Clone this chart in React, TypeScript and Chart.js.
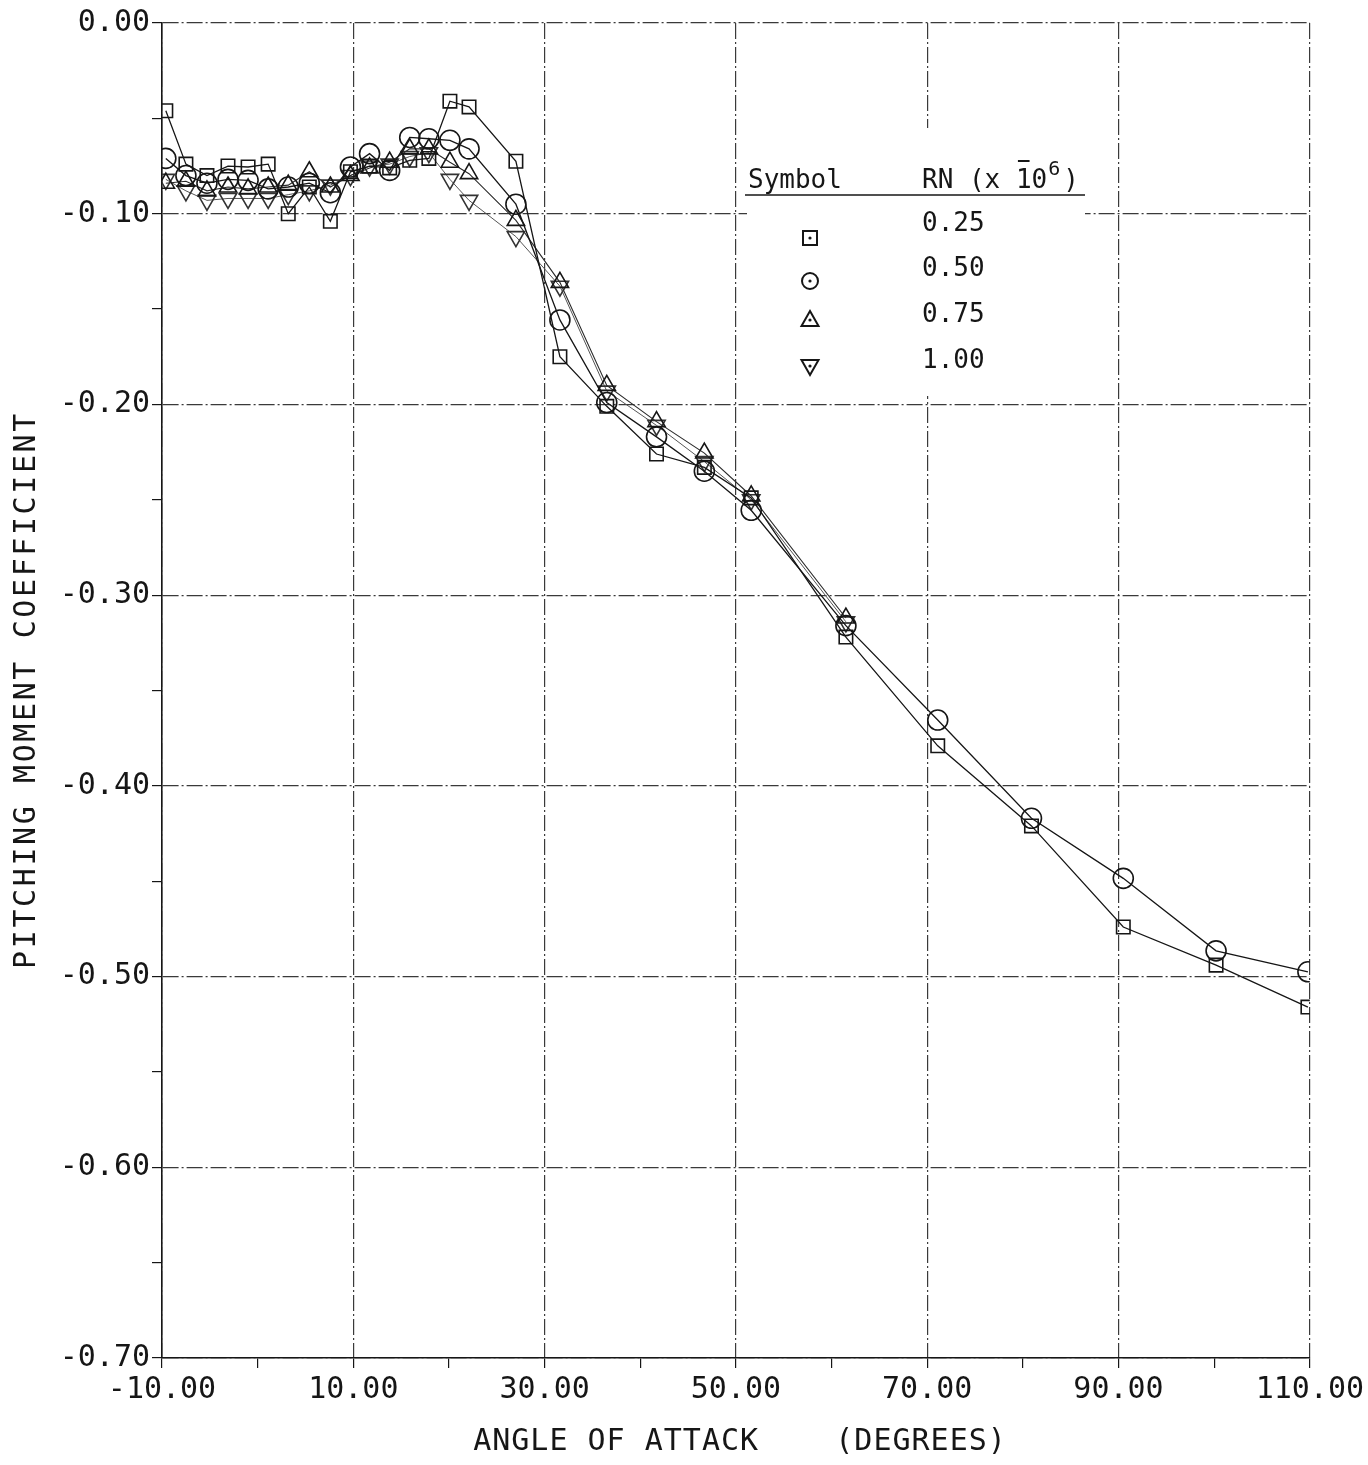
import React, { useEffect, useRef } from "react";
import { Chart, registerables } from "chart.js";

Chart.register(...registerables);

// Angle of attack (degrees) at which each run was sampled
const angles = [
  -9.6, -7.5, -5.3, -3.1, -1.0, 1.1, 3.2, 5.4, 7.6, 9.7, 11.7, 13.8, 15.9, 17.9,
  20.1, 22.1, 27.0, 31.6, 36.5, 41.7, 46.7, 51.6, 61.5, 71.1, 80.9, 90.5, 100.2,
  109.8,
];

// Pitching moment coefficient, RN = 0.25 x 10^6 (squares)
const rn025 = [
  -0.046, -0.074, -0.08, -0.075, -0.0755, -0.074, -0.1, -0.086, -0.104, -0.078,
  -0.075, -0.076, -0.072, -0.071, -0.041, -0.044, -0.0725, -0.175, -0.201,
  -0.226, -0.233, -0.249, -0.322, -0.379, -0.421, -0.474, -0.494, -0.516,
];

// RN = 0.50 x 10^6 (circles)
const rn050 = [
  -0.071, -0.08, -0.084, -0.082, -0.0825, -0.087, -0.086, -0.084, -0.089,
  -0.0755, -0.0685, -0.0773, -0.06, -0.0607, -0.0615, -0.066, -0.095, -0.1557,
  -0.199, -0.217, -0.235, -0.2555, -0.316, -0.3655, -0.417, -0.4485, -0.4865,
  -0.4975,
];

// RN = 0.75 x 10^6 (triangles), low and mid angles only
const rn075 = [
  -0.084, -0.083, -0.088, -0.086, -0.087, -0.086, -0.085, -0.078, -0.086, -0.08,
  -0.076, -0.073, -0.066, -0.066, -0.073, -0.079, -0.1035, -0.136, -0.19,
  -0.209, -0.2255, -0.248, -0.312,
];

// RN = 1.00 x 10^6 (inverted triangles), low and mid angles only
const rn100 = [
  -0.082, -0.088, -0.093, -0.092, -0.092, -0.092, -0.09, -0.088, -0.085, -0.08,
  -0.075, -0.074, -0.07, -0.068, -0.082, -0.093, -0.112, -0.138, -0.193, -0.211,
  -0.23, -0.25, -0.314,
];

const legendLabels = ["0.25", "0.50", "0.75", "1.00"];

const INK = "#161616";
const MONO = "'DejaVu Sans Mono', 'Liberation Mono', monospace";

const toPoints = (ys: number[]) => ys.map((y, i) => ({ x: angles[i], y }));

function drawSymbol(ctx: CanvasRenderingContext2D, kind: number, x: number, y: number) {
  ctx.beginPath();
  if (kind === 0) {
    ctx.rect(x - 7, y - 7, 14, 14);
  } else if (kind === 1) {
    ctx.arc(x, y, 8, 0, Math.PI * 2);
  } else if (kind === 2) {
    ctx.moveTo(x, y - 9);
    ctx.lineTo(x + 8.5, y + 6);
    ctx.lineTo(x - 8.5, y + 6);
    ctx.closePath();
  } else {
    ctx.moveTo(x, y + 9);
    ctx.lineTo(x + 8.5, y - 6);
    ctx.lineTo(x - 8.5, y - 6);
    ctx.closePath();
  }
  ctx.stroke();
  ctx.beginPath();
  ctx.arc(x, y, 1.6, 0, Math.PI * 2);
  ctx.fill();
}

const framePlugin = {
  id: "frameAndKey",
  beforeDatasetsDraw(chart: any) {
    const { ctx } = chart;
    ctx.save();
    ctx.fillStyle = "#ffffff";
    ctx.fillRect(747, 128, 338, 268);
    ctx.restore();
  },
  afterDraw(chart: any) {
    const { ctx } = chart;
    ctx.save();
    ctx.fillStyle = INK;
    ctx.strokeStyle = INK;

    // axis titles
    ctx.font = `30px ${MONO}`;
    (ctx as any).letterSpacing = "1px";
    ctx.textAlign = "center";
    ctx.textBaseline = "middle";
    ctx.fillText("ANGLE OF ATTACK    (DEGREES)", 740, 1442);

    ctx.save();
    ctx.translate(27, 690);
    ctx.rotate(-Math.PI / 2);
    (ctx as any).letterSpacing = "2.6px";
    ctx.fillText("PITCHING MOMENT COEFFICIENT", 0, 0);
    ctx.restore();

    // symbol key
    (ctx as any).letterSpacing = "0px";
    ctx.font = `26px ${MONO}`;
    ctx.textAlign = "left";
    ctx.textBaseline = "alphabetic";
    ctx.fillText("Symbol", 748, 188);
    ctx.fillText("RN (x 10", 922, 188);
    const w10 = ctx.measureText("RN (x 10").width;
    const w0 = ctx.measureText("0").width;
    ctx.font = `20px ${MONO}`;
    ctx.fillText("6", 922 + w10 + 1, 175);
    const w6 = ctx.measureText("6").width;
    ctx.font = `26px ${MONO}`;
    ctx.fillText(")", 922 + w10 + w6 + 4, 188);
    // raised minus over the "1" of the exponent base
    ctx.lineWidth = 2;
    ctx.beginPath();
    ctx.moveTo(922 + w10 - 2 * w0 + 2, 161);
    ctx.lineTo(922 + w10 - w0 - 2, 161);
    ctx.stroke();

    ctx.lineWidth = 1.6;
    ctx.beginPath();
    ctx.moveTo(745, 195);
    ctx.lineTo(1085, 195);
    ctx.stroke();

    const rowsY = [224, 269, 315, 361];
    const symY = [238, 281, 320, 366];
    ctx.textBaseline = "middle";
    legendLabels.forEach((lab, i) => {
      ctx.fillText(lab, 922, rowsY[i]);
      ctx.lineWidth = 2;
      drawSymbol(ctx, i, 810, symY[i]);
    });

    ctx.restore();
  },
};

export default function App() {
  const canvasRef = useRef<HTMLCanvasElement | null>(null);

  useEffect(() => {
    document.body.style.margin = "0";
    const canvas = canvasRef.current;
    if (!canvas) return;

    const common = {
      borderColor: INK,
      pointBorderColor: INK,
      pointBackgroundColor: "rgba(0,0,0,0)",
      backgroundColor: "rgba(0,0,0,0)",
      tension: 0,
      fill: false,
      pointBorderWidth: 1.6,
    };

    const chart = new Chart(canvas, {
      type: "line",
      data: {
        datasets: [
          {
            ...common,
            label: "0.25",
            data: toPoints(rn025),
            borderWidth: 1.3,
            pointStyle: "rect",
            pointRadius: 9.5,
          },
          {
            ...common,
            label: "0.50",
            data: toPoints(rn050),
            borderWidth: 1.3,
            pointStyle: "circle",
            pointRadius: 10,
          },
          {
            ...common,
            label: "0.75",
            data: toPoints(rn075),
            borderWidth: 1.1,
            borderColor: "#2a2a2a",
            pointStyle: "triangle",
            pointRadius: 10,
          },
          {
            ...common,
            label: "1.00",
            data: toPoints(rn100),
            borderWidth: 1,
            borderColor: "#555555",
            pointBorderColor: "#333333",
            pointStyle: "triangle",
            pointRotation: 180,
            pointRadius: 10,
          },
        ],
      } as any,
      options: {
        responsive: false,
        animation: false,
        devicePixelRatio: 1,
        layout: { padding: { top: 23, right: 58, left: 0, bottom: 0 } },
        plugins: {
          legend: { display: false },
          tooltip: { enabled: false },
          title: { display: false },
        },
        scales: {
          x: {
            type: "linear",
            min: -10,
            max: 110,
            afterFit: (scale: any) => {
              scale.height = 107;
            },
            ticks: {
              stepSize: 10,
              autoSkip: false,
              maxRotation: 0,
              padding: 4,
              color: INK,
              font: { family: MONO, size: 30 },
              callback: (v: any) => (((Number(v) + 10) % 20 === 0) ? Number(v).toFixed(2) : ""),
            },
            grid: {
              color: (c: any) => (c.tick && (Math.round(c.tick.value) + 10) % 20 === 0 ? "#3a3a3a" : "rgba(0,0,0,0)"),
              tickColor: INK,
              tickLength: 10,
              lineWidth: 1.2,
            },
            border: { display: true, color: INK, width: 1.6, dash: [16, 3, 2, 3] },
          },
          y: {
            type: "linear",
            min: -0.7,
            max: 0,
            afterFit: (scale: any) => {
              scale.width = 162;
            },
            ticks: {
              stepSize: 0.05,
              autoSkip: false,
              padding: 2,
              color: INK,
              font: { family: MONO, size: 30 },
              callback: (v: any) => (Math.round(Number(v) * 100) % 10 === 0 ? Number(v).toFixed(2) : ""),
            },
            grid: {
              color: (c: any) => (c.tick && Math.round(c.tick.value * 100) % 10 === 0 ? "#3a3a3a" : "rgba(0,0,0,0)"),
              tickColor: INK,
              tickLength: 10,
              lineWidth: 1.2,
            },
            border: { display: true, color: INK, width: 1.6, dash: [16, 3, 2, 3] },
          },
        },
      } as any,
      plugins: [framePlugin],
    });

    return () => chart.destroy();
  }, []);

  return (
    <div style={{ width: 1368, height: 1465, background: "#fff" }}>
      <canvas ref={canvasRef} width={1368} height={1465} style={{ display: "block" }} />
    </div>
  );
}
